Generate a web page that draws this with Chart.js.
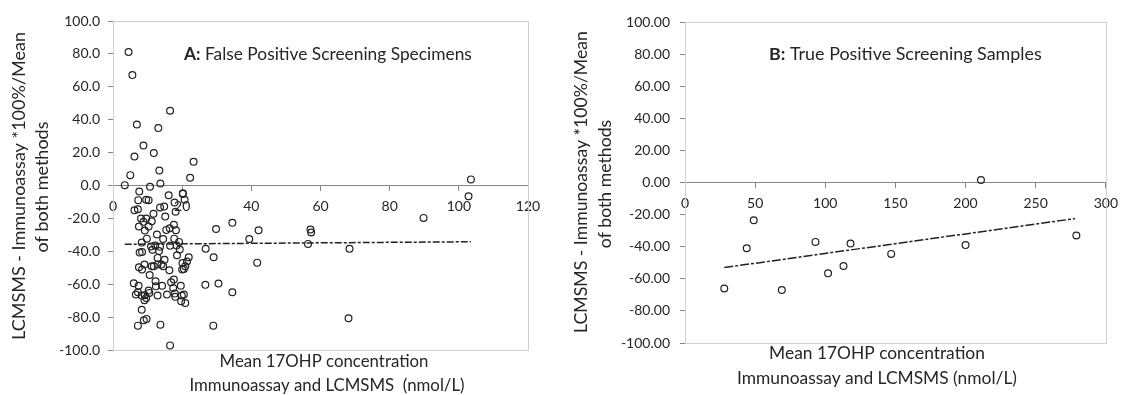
<!DOCTYPE html>
<html><head><meta charset="utf-8">
<script src="https://cdn.jsdelivr.net/npm/chart.js@4"></script>
<style>
html,body{margin:0;padding:0;background:#fff;width:1126px;height:395px;overflow:hidden}
#ca{position:absolute;left:0;top:0}
#cb{position:absolute;left:560px;top:0}
</style></head><body>
<canvas id="ca" width="560" height="395"></canvas>
<canvas id="cb" width="566" height="395"></canvas>
<script>
// ---- Panel A data: False Positive Screening Specimens ----
const aX = [4.5,5.6,16.5,6.9,13.1,8.8,11.8,6.2,13.4,23.3,22.3,5.0,3.4,13.7,10.7,7.6,16.1,20.2,20.2,20.7,7.3,9.6,10.3,17.8,18.1,14.8,13.6,6.2,7.2,11.7,15.1,8.1,9.6,8.8,11.2,7.5,10.3,9.2,17.6,16.4,15.4,18.2,9.8,12.7,14.5,17.7,8.3,19.1,11.0,12.2,13.6,16.5,18.4,11.4,13.3,19.3,7.7,8.4,18.5,21.9,12.9,14.9,21.4,20.1,9.1,12.9,11.2,11.8,14.0,14.5,7.5,8.4,20.9,20.5,20.0,16.3,10.6,12.3,17.6,16.8,6.0,7.4,12.4,14.2,19.6,17.4,10.3,10.5,6.6,7.2,9.2,15.6,17.9,19.9,20.5,9.6,12.9,18.0,8.3,19.7,20.9,9.1,8.3,8.9,9.7,7.2,13.7,16.5,26.8,29.1,29.8,26.7,30.5,29.0,34.5,34.5,39.4,42.1,41.7,56.4,57.1,57.3,68.4,68.1,89.8,102.8,103.5];
const aY = [81.1,67.1,45.4,37.1,34.9,24.3,19.7,17.6,9.1,14.4,4.7,6.3,0.2,1.2,-0.8,-3.7,-5.9,-4.7,-5.1,-8.7,-8.9,-8.7,-8.9,-10.3,-16.0,-12.8,-13.4,-15.0,-14.4,-17.2,-18.9,-20.1,-20.1,-22.1,-21.7,-24.9,-24.9,-27.4,-23.9,-26.0,-27.0,-27.2,-32.3,-29.8,-32.5,-32.3,-34.7,-34.3,-37.1,-36.5,-37.3,-36.7,-36.5,-39.1,-39.8,-38.9,-40.8,-40.4,-42.4,-43.6,-44.0,-45.2,-46.2,-47.1,-48.1,-48.1,-49.1,-49.1,-48.1,-49.1,-49.7,-51.1,-49.1,-50.7,-51.1,-51.5,-54.4,-58.2,-57.2,-58.8,-59.4,-60.9,-61.3,-60.9,-60.9,-62.3,-63.9,-65.3,-66.3,-64.9,-66.7,-66.3,-65.7,-66.9,-66.3,-68.4,-66.9,-67.7,-66.9,-70.4,-71.4,-69.8,-75.5,-81.9,-81.1,-85.2,-84.6,-97.2,-38.5,-43.6,-26.4,-60.4,-59.6,-85.2,-22.7,-64.9,-32.5,-27.2,-46.9,-35.5,-26.8,-28.6,-38.5,-80.7,-19.7,-6.5,3.7];
const aTrendX = [3.4, 103.5];
const aTrendY = [-35.7, -34.2];

// ---- Panel B data: True Positive Screening Samples ----
const bX = [28,44,49,69,93,102,113,118,147,200,211,279];
const bY = [-66,-41,-23.5,-67,-37,-56.5,-52,-38,-44.5,-39,1.5,-33];
const bTrendX = [28, 278];
const bTrendY = [-53, -22.5];

// ---- Axis ranges / ticks ----
const yRange = [-100, 100, 20];
const aXRange = [0, 120, 20];
const bXRange = [0, 300, 50];

const FONT = 'Lato, "Open Sans", sans-serif';
const TXT = '#262626';

function pts(xs, ys){ return xs.map((x,i)=>({x:x, y:ys[i]})); }

function fitSize(ctx, parts, width){
  let w = 0;
  parts.forEach(p=>{ ctx.font = (p.bold?'bold ':'') + '20px ' + FONT; w += ctx.measureText(p.t).width; });
  return 20 * width / w;
}

const annotate = {
  id:'annotate',
  beforeDatasetsDraw(chart, args, o){
    const ca = chart.chartArea, ctx = chart.ctx;
    ctx.save();
    ctx.strokeStyle = '#d0d0d0'; ctx.lineWidth = 1;
    ctx.strokeRect(Math.round(ca.left)+0.5, Math.round(ca.top)+0.5, Math.round(ca.right-ca.left), Math.round(ca.bottom-ca.top));
    ctx.restore();
  },
  afterDraw(chart, args, o){
    const ctx = chart.ctx;
    ctx.save();
    ctx.fillStyle = TXT;
    ctx.textBaseline = 'middle';
    const tp = [{t:o.label, bold:true},{t:o.title, bold:false}];
    const ts = fitSize(ctx, tp, o.titleW);
    let x = o.titleX;
    ctx.textAlign = 'left';
    tp.forEach(p=>{ ctx.font = (p.bold?'bold ':'') + ts + 'px ' + FONT; ctx.fillText(p.t, x, o.titleY); x += ctx.measureText(p.t).width; });
    const ys = fitSize(ctx, [{t:o.yLines[0].t}], o.yLines[0].w);
    ctx.textAlign = 'center';
    o.yLines.forEach(l=>{
      ctx.save(); ctx.translate(l.cx, l.cy); ctx.rotate(-Math.PI/2);
      ctx.font = ys + 'px ' + FONT; ctx.fillText(l.t, 0, 0); ctx.restore();
    });
    const xs = fitSize(ctx, [{t:o.xLines[0].t}], o.xLines[0].w);
    o.xLines.forEach(l=>{ ctx.font = xs + 'px ' + FONT; ctx.fillText(l.t, l.cx, l.cy); });
    ctx.restore();
  }
};

function makeChart(id, c){
  return new Chart(document.getElementById(id), {
    type:'scatter',
    data:{ datasets:[
      { data: pts(c.xs, c.ys), pointStyle:'circle', pointRadius:3.4, pointHoverRadius:3.4,
        borderColor:'#222', backgroundColor:'rgba(0,0,0,0)', pointBorderWidth:1.2, showLine:false, order:1 },
      { type:'line', data: pts(c.tx, c.ty), borderColor:'#222', borderWidth:1.5, borderDash:c.dash,
        pointRadius:0, fill:false, order:2 }
    ]},
    options:{
      responsive:false, animation:false, events:[],
      layout:{ padding:{ left:0, right:c.padR, top:c.padT, bottom:c.padB } },
      plugins:{ legend:{display:false}, tooltip:{enabled:false}, annotate:c.ann },
      scales:{
        x:{ type:'linear', position:{y:0}, min:c.xr[0], max:c.xr[1],
            ticks:{ stepSize:c.xr[2], color:TXT, font:{family:FONT, size:14}, padding:8, maxRotation:0 },
            grid:{ drawOnChartArea:false, drawTicks:true, tickLength:5, color:'#868686' },
            border:{ color:'#868686', width:1 } },
        y:{ type:'linear', min:yRange[0], max:yRange[1],
            afterFit(a){ a.width = c.yW; },
            ticks:{ stepSize:yRange[2], color:TXT, font:{family:FONT, size:14}, padding:c.yPad,
                    callback:(v)=>Number(v).toFixed(c.dec) },
            grid:{ drawOnChartArea:false, drawTicks:true, tickLength:5, color:'#868686' },
            border:{ color:'#868686', width:1 } }
      }
    },
    plugins:[annotate]
  });
}

makeChart('ca', {
  xs:aX, ys:aY, tx:aTrendX, ty:aTrendY, xr:aXRange, dec:1, dash:[7,2,3,2],
  yW:113, yPad:8, padR:32, padT:21, padB:45,
  ann:{ label:'A:', title:' False Positive Screening Specimens', titleX:184, titleY:54, titleW:288,
        yLines:[{t:'LCMSMS - Immunoassay *100%/Mean', cx:19, cy:186, w:308},{t:'of both methods', cx:42.5, cy:187}],
        xLines:[{t:'Mean 17OHP concentration', cx:324, cy:362, w:209},{t:'Immunoassay and LCMSMS  (nmol/L)', cx:327, cy:386}] }
});
makeChart('cb', {
  xs:bX, ys:bY, tx:bTrendX, ty:bTrendY, xr:bXRange, dec:2, dash:[9,2,3,2],
  yW:125, yPad:10, padR:14, padT:22, padB:52,
  ann:{ label:'B:', title:' True Positive Screening Samples', titleX:209, titleY:54, titleW:273,
        yLines:[{t:'LCMSMS - Immunoassay *100%/Mean', cx:21, cy:182, w:302},{t:'of both methods', cx:45, cy:184}],
        xLines:[{t:'Mean 17OHP concentration', cx:317, cy:353, w:216},{t:'Immunoassay and LCMSMS (nmol/L)', cx:317, cy:378}] }
});
</script>
</body></html>
